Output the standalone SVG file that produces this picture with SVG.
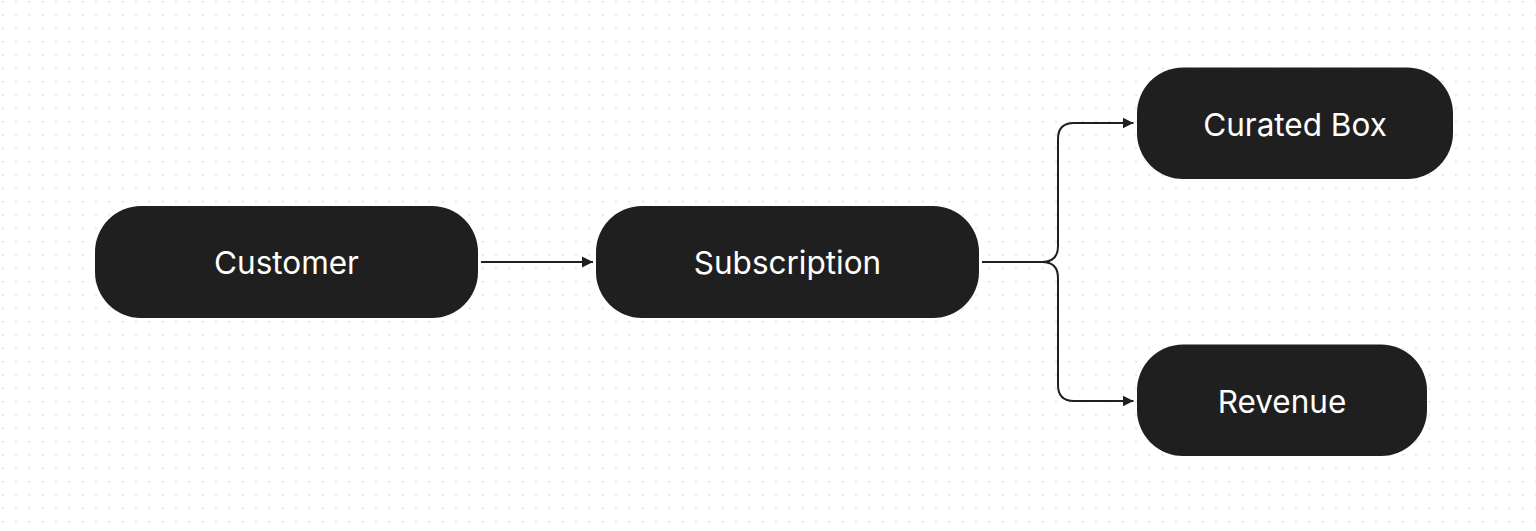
<svg xmlns="http://www.w3.org/2000/svg" width="1536" height="531" viewBox="0 0 1536 531">
<style>
.node rect{fill:#1f1f1f}
.node text{fill:#ffffff;font-family:Inter,"Noto Sans","Liberation Sans",sans-serif;font-size:31.5px;font-weight:400;text-anchor:middle}
.edge{fill:none;stroke:#1f1f1f;stroke-width:2}
</style>
<defs>
<pattern id="dots" x="2" y="1" width="13.333" height="13.333" patternUnits="userSpaceOnUse">
<circle cx="0.7" cy="0.7" r="0.8" fill="#cfcfcf"/>
</pattern>
<marker id="arrow" markerUnits="userSpaceOnUse" markerWidth="12" markerHeight="12" viewBox="0 0 12 12" refX="11" refY="6" orient="auto">
<path d="M0 0.5 L11 6 L0 11.5 Z" fill="#1f1f1f"/>
</marker>
</defs>
<rect width="1536" height="531" fill="#ffffff"/>
<rect width="1536" height="531" fill="url(#dots)"/>
<g id="connectors">
<path class="edge" d="M481 262 H593" marker-end="url(#arrow)"/>
<path class="edge" d="M982 262 H1042 Q1058 262 1058 246 V139 Q1058 123 1074 123 H1133.5" marker-end="url(#arrow)"/>
<path class="edge" d="M982 262 H1042 Q1058 262 1058 278 V385 Q1058 401 1074 401 H1133.5" marker-end="url(#arrow)"/>
</g>
<g id="customer" class="node">
<rect x="95" y="206" width="383" height="112" rx="46" ry="46"/>
<text x="286.5" y="273.5">Customer</text>
</g>
<g id="subscription" class="node">
<rect x="596" y="206" width="383" height="112" rx="46" ry="46"/>
<text x="787.5" y="273.5">Subscription</text>
</g>
<g id="curated-box" class="node">
<rect x="1137" y="67.5" width="316" height="111.5" rx="46" ry="46"/>
<text x="1295" y="136">Curated Box</text>
</g>
<g id="revenue" class="node">
<rect x="1137" y="344.5" width="290" height="111.5" rx="46" ry="46"/>
<text x="1282" y="413">Revenue</text>
</g>
</svg>
